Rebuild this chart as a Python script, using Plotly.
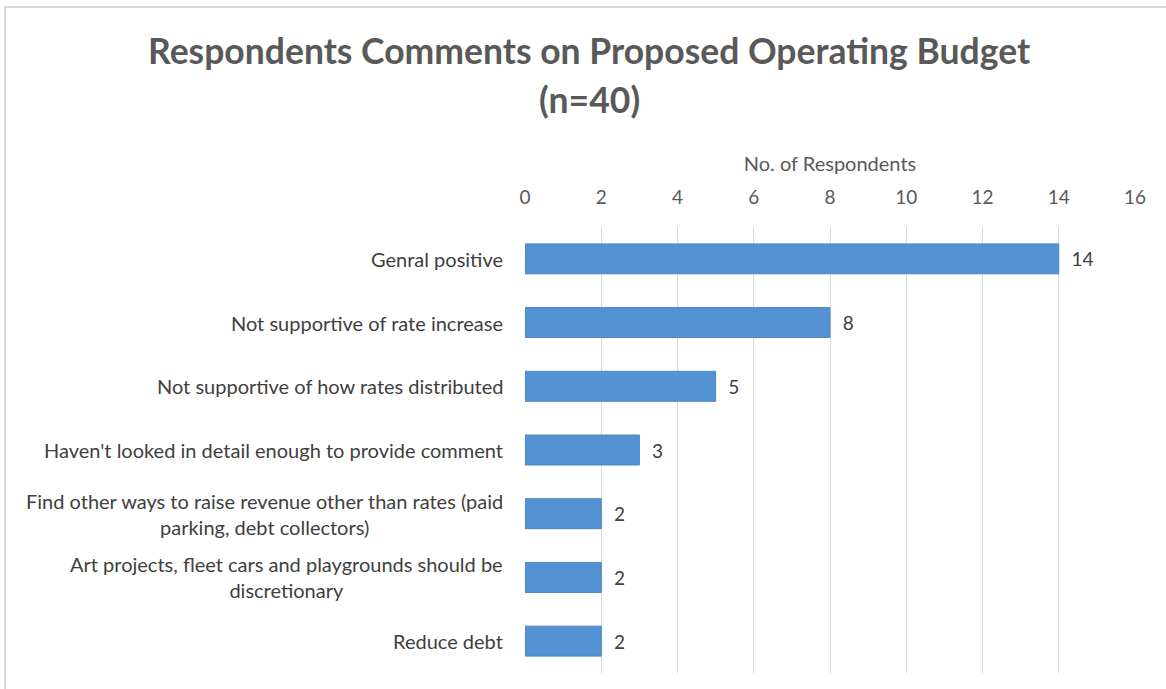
import plotly.graph_objects as go

# Survey comment categories (top to bottom) and respondent counts
categories = [
    "Genral positive",
    "Not supportive of rate increase",
    "Not supportive of how rates distributed",
    "Haven't looked in detail enough to provide comment",
    "Find other ways to raise revenue other than rates (paid<br>parking, debt collectors)",
    "Art projects, fleet cars and playgrounds should be<br>discretionary",
    "Reduce debt",
]
respondents = [14, 8, 5, 3, 2, 2, 2]
x_ticks = [0, 2, 4, 6, 8, 10, 12, 14, 16]

title_lines = ["Respondents Comments on Proposed Operating Budget", "(n=40)"]
x_title = "No. of Respondents"

FONT = "Lato"
GREY = "#595959"
LABEL_GREY = "#404040"

# Plot-area geometry in pixels
W, H = 1166, 689
L, R, T, B = 525, 31, 227, 16
plot_w = W - L - R
plot_h = H - T - B

fig = go.Figure()

fig.add_trace(go.Bar(
    x=respondents,
    y=categories,
    orientation="h",
    marker=dict(color="#5592d4", line=dict(color="#4a86c8", width=1)),
    text=respondents,
    texttemplate="  %{x}",
    textposition="outside",
    textfont=dict(family=FONT, size=19, color=LABEL_GREY),
    cliponaxis=False,
    hoverinfo="skip",
))

# Category labels, centred within their own block like wrapped chart text
for cat in categories:
    fig.add_annotation(
        x=0, y=cat, xref="x", yref="y",
        text=cat, showarrow=False,
        xanchor="right", yanchor="middle", align="center",
        xshift=-20,
        font=dict(family=FONT, size=20, color=LABEL_GREY),
    )

# Two-line bold title
for line, py in zip(title_lines, [50, 100]):
    fig.add_annotation(
        x=(589 - L) / plot_w, y=1 + (T - py) / plot_h,
        xref="paper", yref="paper", text=f"<b>{line}</b>",
        showarrow=False, xanchor="center", yanchor="middle",
        font=dict(family=FONT, size=35.5, color=GREY),
    )

fig.update_layout(
    width=W, height=H,
    margin=dict(l=L, r=R, t=T, b=B),
    paper_bgcolor="white", plot_bgcolor="white",
    showlegend=False,
    bargap=0.53,
    xaxis=dict(
        side="top", range=[0, 16], tickvals=x_ticks,
        showgrid=True, gridcolor="#d9d9d9", gridwidth=1,
        zeroline=False, showline=False, ticks="",
        ticklabelstandoff=18,
        tickfont=dict(family=FONT, size=19, color=GREY),
        title=dict(text=x_title, font=dict(family=FONT, size=20, color=GREY), standoff=8),
    ),
    yaxis=dict(
        categoryorder="array", categoryarray=categories[::-1],
        showticklabels=False, showgrid=False, zeroline=False, showline=False,
        ticks="",
    ),
    shapes=[dict(
        type="rect", xref="paper", yref="paper",
        x0=-(L - 5) / plot_w, x1=1.2, y0=-0.2, y1=1 + (T - 7) / plot_h,
        line=dict(color="#d9d9d9", width=2), fillcolor="rgba(0,0,0,0)", layer="below",
    )],
)

fig.write_html("out.html")
